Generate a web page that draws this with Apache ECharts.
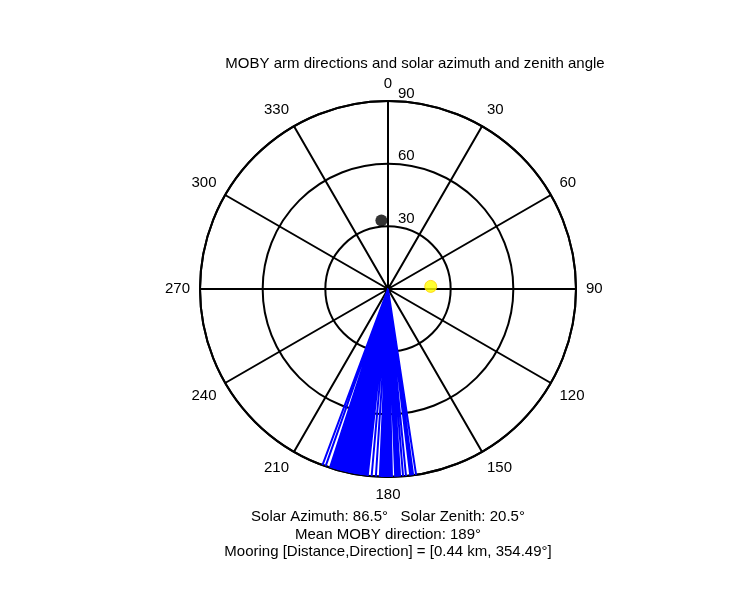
<!DOCTYPE html>
<html><head><meta charset="utf-8">
<script src="https://cdn.jsdelivr.net/npm/echarts@6/dist/echarts.min.js"></script>
<style>html,body{margin:0;background:#fff}#c{width:750px;height:600px}</style>
</head><body><div id="c"></div>
<script>
const armAngles = [200.4,199.4,198,197.5,197,196.5,196,195.5,195,194.5,194,193.5,193,192.5,192,191.5,191,190.5,190,189.5,189,188.5,188,187.5,187,186.5,186.2,185,183.7,182.5,182,181.6,181.2,180.6,180.2,179.8,179.4,178.8,177.8,177.3,176.8,176.3,175.4,174.5,173.2,172.8,172.3,171.4];
const armRadius = 90;
const solar = [20.5, 86.5];      // [zenith, azimuth]
const mooring = [33, 354.49];    // [plot radius, direction]
const angleTicks = [0,30,60,90,120,150,180,210,240,270,300,330];
const radiusTicks = [30,60,90];
const armData = [];
armAngles.forEach(a => { armData.push([0, a]); armData.push([armRadius, a]); });
const font = 'Liberation Sans';
const fs = 15;
const chart = echarts.init(document.getElementById('c'));
chart.setOption({
  animation:false,
  textStyle:{fontFamily:font},
  polar:{center:[388,289], radius:188},
  angleAxis:{type:'value', min:0, max:360, interval:30, startAngle:90, clockwise:true,
    axisLine:{lineStyle:{color:'#000', width:2}}, axisTick:{show:false},
    axisLabel:{color:'#000', fontSize:fs, margin:10, formatter:v => angleTicks.includes(v)?String(v):''},
    splitLine:{show:true, lineStyle:{color:'#000', width:2}}},
  radiusAxis:{type:'value', min:0, max:90, interval:30,
    axisLine:{show:false}, axisTick:{show:false},
    axisLabel:{color:'#000', fontSize:fs, margin:-10, align:'left', verticalAlign:'bottom',
      formatter:v => radiusTicks.includes(v)?String(v):''},
    splitLine:{show:true, lineStyle:{color:'#000', width:2}}},
  series:[
    {type:'line', coordinateSystem:'polar', data:armData, symbol:'none', lineStyle:{color:'#0000ff', width:2}, z:3},
    {type:'scatter', coordinateSystem:'polar', data:[solar], symbolSize:12, itemStyle:{color:'#ffff00', borderColor:'#ffd000', borderWidth:1}, z:4},
    {type:'scatter', coordinateSystem:'polar', data:[mooring], symbolSize:12, itemStyle:{color:'#000'}, z:4}
  ],
  graphic:[
    {type:'text', x:415, y:56, style:{text:'MOBY arm directions and solar azimuth and zenith angle', font:fs+'px '+font, fill:'#000', align:'center'}},
    {type:'text', x:388, y:509, style:{text:'Solar Azimuth: 86.5°   Solar Zenith: 20.5°', font:fs+'px '+font, fill:'#000', align:'center'}},
    {type:'text', x:388, y:527, style:{text:'Mean MOBY direction: 189°', font:fs+'px '+font, fill:'#000', align:'center'}},
    {type:'text', x:388, y:544, style:{text:'Mooring [Distance,Direction] = [0.44 km, 354.49°]', font:fs+'px '+font, fill:'#000', align:'center'}}
  ]
});
</script></body></html>
